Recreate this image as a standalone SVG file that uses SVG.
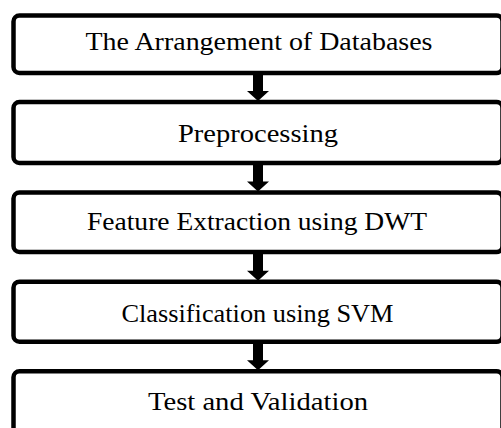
<svg xmlns="http://www.w3.org/2000/svg" width="501" height="428" viewBox="0 0 501 428">
<style>
.box{fill:#fff;stroke:#000;stroke-width:4.5}
.lbl{font-family:"Liberation Serif","Times New Roman",serif;font-size:25px;fill:#000;text-anchor:middle}
.arr{fill:#000;stroke:none}
</style>
<rect width="501" height="428" fill="#fff"/>
<g id="connectors">
<path class="arr" d="M253,73 H263 V91 H269 L258,101 L247,91 H253 Z"/>
<path class="arr" d="M253,163 H263 V181.5 H269 L258,191.5 L247,181.5 H253 Z"/>
<path class="arr" d="M253,252 H263 V270.7 H269 L258,280.7 L247,270.7 H253 Z"/>
<path class="arr" d="M253,341.7 H263 V360.3 H269 L258,370.3 L247,360.3 H253 Z"/>
</g>
<g id="node1">
<rect class="box" x="13.5" y="15.5" width="489" height="57.5" rx="6"/>
<text class="lbl" x="259" y="50" textLength="347" lengthAdjust="spacingAndGlyphs">The Arrangement of Databases</text>
</g>
<g id="node2">
<rect class="box" x="13.5" y="102" width="489" height="61" rx="6"/>
<text class="lbl" x="258" y="142.3" textLength="160" lengthAdjust="spacingAndGlyphs">Preprocessing</text>
</g>
<g id="node3">
<rect class="box" x="13.5" y="192.5" width="489" height="59.5" rx="6"/>
<text class="lbl" x="257" y="230" textLength="340" lengthAdjust="spacingAndGlyphs">Feature Extraction using DWT</text>
</g>
<g id="node4">
<rect class="box" x="13.5" y="281.7" width="489" height="60" rx="6"/>
<text class="lbl" x="257.5" y="321.7" textLength="272" lengthAdjust="spacingAndGlyphs">Classification using SVM</text>
</g>
<g id="node5">
<rect class="box" x="13.5" y="371.3" width="489" height="70" rx="6"/>
<text class="lbl" x="258" y="410" textLength="220" lengthAdjust="spacingAndGlyphs">Test and Validation</text>
</g>
</svg>
